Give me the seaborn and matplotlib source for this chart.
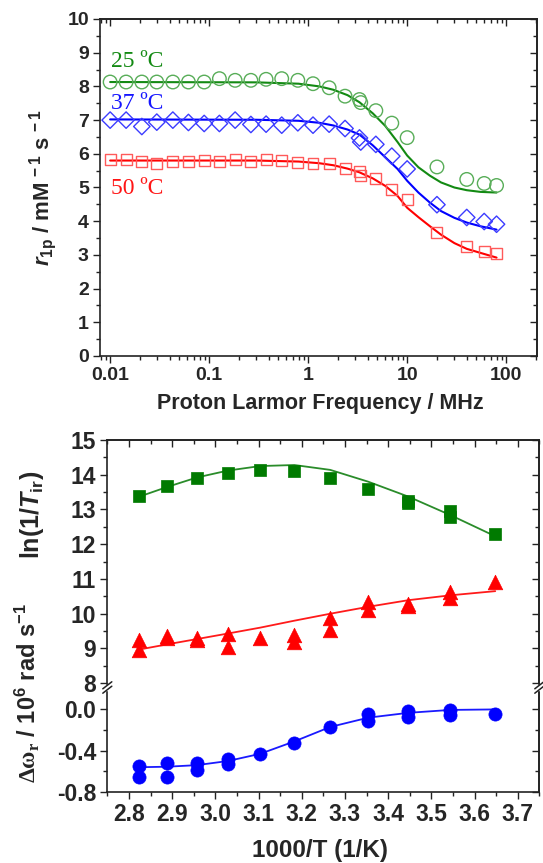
import matplotlib
matplotlib.use('Agg')
import matplotlib.pyplot as plt
from matplotlib.ticker import MultipleLocator, LogLocator, NullFormatter, FixedLocator
from matplotlib.lines import Line2D
from matplotlib.patches import Rectangle
import seaborn as sns

# top panel: r1p profiles (MHz)
freq = [0.01, 0.0145, 0.0209, 0.0296, 0.043, 0.0618, 0.0891, 0.127, 0.183, 0.264,
        0.376, 0.541, 0.787, 1.12, 1.63, 2.36, 3.3, 3.4, 4.83, 7.0, 10, 20, 40, 60, 80]
r1p_25 = [8.13, 8.13, 8.13, 8.13, 8.13, 8.13, 8.13, 8.23, 8.18, 8.18, 8.21, 8.23, 8.18,
          8.08, 7.96, 7.71, 7.61, 7.52, 7.28, 6.91, 6.48, 5.61, 5.24, 5.12, 5.06]
r1p_37 = [7.0, 7.0, 6.81, 6.94, 7.0, 6.93, 6.9, 6.9, 7.0, 6.87, 6.88, 6.85, 6.92,
          6.85, 6.88, 6.75, 6.47, 6.35, 6.28, 5.93, 5.55, 4.49, 4.11, 3.99, 3.91]
r1p_50 = [5.84, 5.84, 5.77, 5.70, 5.76, 5.77, 5.79, 5.77, 5.82, 5.77, 5.82, 5.80, 5.74,
          5.70, 5.72, 5.55, 5.48, 5.36, 5.27, 4.93, 4.64, 3.66, 3.25, 3.11, 3.05]

fit_freq = [0.01, 0.3, 0.8, 1.3, 1.8, 2.5, 3.3, 4.5, 6, 8, 10, 13, 17, 22, 30, 40, 55, 80]
fit_25 = [8.13, 8.12, 8.08, 8.0, 7.9, 7.74, 7.53, 7.2, 6.83, 6.35, 5.95, 5.6, 5.35, 5.15,
          5.0, 4.92, 4.87, 4.85]
fit_37 = [7.02, 7.01, 6.98, 6.92, 6.84, 6.72, 6.57, 6.25, 5.9, 5.55, 5.2, 4.85, 4.55, 4.3,
          4.1, 3.96, 3.85, 3.75]
fit_50 = [5.8, 5.8, 5.77, 5.72, 5.66, 5.56, 5.45, 5.27, 5.05, 4.75, 4.4, 4.12, 3.85, 3.6,
          3.35, 3.18, 3.06, 2.92]

# bottom panel: vs 1000/T
inv_t = [2.824, 2.889, 2.957, 3.029, 3.104, 3.183, 3.266, 3.354, 3.447, 3.544, 3.648]
ln_fit = [13.37, 13.65, 13.92, 14.12, 14.25, 14.28, 14.14, 13.8, 13.37, 12.84, 12.23]
lnm_fit = [8.97, 9.12, 9.27, 9.43, 9.6, 9.8, 10.0, 10.2, 10.39, 10.53, 10.65]
dw_fit = [-0.56, -0.555, -0.54, -0.50, -0.43, -0.31, -0.17, -0.08, -0.033, -0.005, 0.0]

ln_x = [2.824, 2.889, 2.957, 3.029, 3.104, 3.183, 3.266, 3.354, 3.447, 3.447, 3.544, 3.544, 3.648]
ln_y = [13.39, 13.67, 13.90, 14.06, 14.14, 14.12, 13.92, 13.59, 13.25, 13.19, 12.96, 12.79, 12.29]
lnm_x = [2.824, 2.824, 2.889, 2.889, 2.957, 2.957, 3.029, 3.029, 3.104, 3.183, 3.183,
         3.266, 3.266, 3.354, 3.354, 3.447, 3.447, 3.544, 3.544, 3.648]
lnm_y = [9.24, 8.97, 9.36, 9.30, 9.31, 9.25, 9.41, 9.05, 9.29, 9.38, 9.19,
         9.88, 9.53, 10.34, 10.12, 10.29, 10.23, 10.63, 10.44, 10.92]
dw_x = [2.824, 2.824, 2.889, 2.889, 2.957, 2.957, 3.029, 3.029, 3.104, 3.183, 3.266,
        3.354, 3.354, 3.447, 3.447, 3.544, 3.544, 3.648]
dw_y = [-0.545, -0.65, -0.516, -0.65, -0.52, -0.59, -0.48, -0.53, -0.43, -0.33, -0.17,
        -0.04, -0.11, -0.02, -0.07, -0.007, -0.055, -0.04]

sns.set_theme(style='ticks')
plt.rcParams['font.family'] = ['Liberation Sans', 'DejaVu Sans']
plt.rcParams['font.weight'] = 'bold'
plt.rcParams['mathtext.fontset'] = 'custom'
plt.rcParams['mathtext.rm'] = 'Liberation Sans:bold'
plt.rcParams['mathtext.it'] = 'Liberation Sans:italic:bold'
plt.rcParams['mathtext.bf'] = 'Liberation Sans:bold'
plt.rcParams['mathtext.cal'] = 'Liberation Serif'
plt.rcParams['axes.linewidth'] = 1.2
plt.rcParams['axes.edgecolor'] = '#222222'

W, H = 543, 863
fig = plt.figure(figsize=(W / 100, H / 100), dpi=100)


def box(l, t, r, b):
    return [l / W, 1 - b / H, (r - l) / W, (b - t) / H]


def base_ticks(ax, size):
    ax.tick_params(which='both', direction='out', top=False, right=False,
                   width=1.0, labelsize=size, pad=3, color='#222222')
    ax.tick_params(which='major', length=5)
    ax.tick_params(which='minor', length=3)


def mirror_y(ax, major, minor):
    sy = ax.secondary_yaxis('right')
    sy.yaxis.set_major_locator(major)
    sy.yaxis.set_minor_locator(minor)
    sy.yaxis.set_major_formatter(NullFormatter())
    sy.tick_params(which='both', direction='in', width=1.0, color='#222222')
    sy.tick_params(which='major', length=5)
    sy.tick_params(which='minor', length=3)


def mirror_x(ax, major, minor):
    sx = ax.secondary_xaxis('top')
    sx.xaxis.set_major_locator(major)
    sx.xaxis.set_minor_locator(minor)
    sx.xaxis.set_major_formatter(NullFormatter())
    sx.xaxis.set_minor_formatter(NullFormatter())
    sx.tick_params(which='both', direction='in', width=1.0, color='#222222')
    sx.tick_params(which='major', length=5)
    sx.tick_params(which='minor', length=3)


# ---- top panel
ax1 = fig.add_axes(box(100, 19, 537, 356))
ax1.set_xscale('log')
ax1.set_xlim(0.0079, 205)
ax1.set_ylim(0, 10)

sns.lineplot(x=fit_freq, y=fit_25, ax=ax1, color='#138a13', linewidth=1.5, sort=False, estimator=None)
sns.lineplot(x=fit_freq, y=fit_37, ax=ax1, color='#0000ff', linewidth=1.5, sort=False, estimator=None)
sns.lineplot(x=fit_freq, y=fit_50, ax=ax1, color='#ff0000', linewidth=1.5, sort=False, estimator=None)
sns.scatterplot(x=freq, y=r1p_25, ax=ax1, marker='o', s=95, facecolor='none',
                edgecolor='#58ad58', linewidth=1.0, zorder=3)
sns.scatterplot(x=freq, y=r1p_37, ax=ax1, marker='D', s=70, facecolor='none',
                edgecolor='#3c3cff', linewidth=1.0, zorder=3)
sns.scatterplot(x=freq, y=r1p_50, ax=ax1, marker='s', s=62, facecolor='none',
                edgecolor='#ff5a5a', linewidth=1.0, zorder=3)

ax1.text(0.0102, 8.74, '25 ºC', color='#138a13', family='Liberation Serif',
         fontweight='normal', fontsize=17, va='center', ha='left')
ax1.text(0.0102, 7.5, '37 ºC', color='#1515ff', family='Liberation Serif',
         fontweight='normal', fontsize=17, va='center', ha='left')
ax1.text(0.0102, 4.97, '50 ºC', color='#ff1515', family='Liberation Serif',
         fontweight='normal', fontsize=17, va='center', ha='left')

base_ticks(ax1, 14)
ax1.xaxis.set_major_locator(LogLocator(base=10))
ax1.xaxis.set_minor_locator(LogLocator(base=10, subs=range(2, 10)))
ax1.xaxis.set_minor_formatter(NullFormatter())
ax1.set_xticks([0.01, 0.1, 1, 10, 100], ['0.01', '0.1', '1', '10', '100'])
ax1.yaxis.set_major_locator(MultipleLocator(1))
ax1.yaxis.set_minor_locator(MultipleLocator(0.5))
ax1.set_xlabel('')
ax1.set_ylabel('')
mirror_y(ax1, MultipleLocator(1), MultipleLocator(0.5))
mirror_x(ax1, LogLocator(base=10), LogLocator(base=10, subs=range(2, 10)))

fig.text(320 / W, 1 - 403 / H, 'Proton Larmor Frequency / MHz', fontsize=15.5,
         ha='center', va='center')
fig.text(43 / W, 1 - 188 / H, r'$\mathit{r}_{\mathrm{1p}}$ / mM$^{\,-1}$ s$^{\,-1}$',
         fontsize=16, rotation=90, ha='center', va='center')

# ---- bottom panel (broken y axis)
ax2 = fig.add_axes(box(107.3, 440, 539.3, 686.7))
ax3 = fig.add_axes(box(107.3, 686.7, 539.3, 792))
for a in (ax2, ax3):
    a.set_xlim(2.75, 3.75)
ax2.set_ylim(7.9, 15)
ax3.set_ylim(-0.8, 0.22)

sns.lineplot(x=inv_t, y=ln_fit, ax=ax2, color='#2a8c2a', linewidth=1.3, sort=False, estimator=None)
sns.lineplot(x=inv_t, y=lnm_fit, ax=ax2, color='#ff1a1a', linewidth=1.3, sort=False, estimator=None)
sns.scatterplot(x=ln_x, y=ln_y, ax=ax2, marker='s', s=80, color='#007a00',
                edgecolor='#007a00', linewidth=0.5, zorder=3)
sns.scatterplot(x=lnm_x, y=lnm_y, ax=ax2, marker='^', s=110, color='#ff0000',
                edgecolor='#ff0000', linewidth=0.5, zorder=3)
sns.lineplot(x=inv_t, y=dw_fit, ax=ax3, color='#1a1aff', linewidth=1.3, sort=False, estimator=None)
sns.scatterplot(x=dw_x, y=dw_y, ax=ax3, marker='o', s=90, color='#0000ff',
                edgecolor='#0000ff', linewidth=0.5, zorder=3)

ax2.spines['bottom'].set_visible(False)
ax3.spines['top'].set_visible(False)
base_ticks(ax2, 16.5)
base_ticks(ax3, 16.5)
ax2.tick_params(axis='x', which='both', bottom=False, labelbottom=False)
ax2.yaxis.set_major_locator(MultipleLocator(1))
ax2.yaxis.set_minor_locator(MultipleLocator(0.5))
ax3.yaxis.set_major_locator(FixedLocator([-0.8, -0.4, 0.0]))
ax3.yaxis.set_minor_locator(FixedLocator([-0.6, -0.2]))
ax3.set_yticklabels(['-0.8', '-0.4', '0.0'])
ax3.xaxis.set_major_locator(MultipleLocator(0.1))
ax3.xaxis.set_minor_locator(MultipleLocator(0.05))
ax3.xaxis.set_major_formatter(plt.FormatStrFormatter('%.1f'))
for a in (ax2, ax3):
    a.set_xlabel('')
    a.set_ylabel('')
mirror_x(ax2, MultipleLocator(0.1), MultipleLocator(0.05))
mirror_y(ax2, MultipleLocator(1), MultipleLocator(0.5))
mirror_y(ax3, FixedLocator([-0.8, -0.4, 0.0]), FixedLocator([-0.6, -0.2]))

# break marks on both spines
yb = 687.5
for xp in (107.3, 539.3):
    fig.add_artist(Rectangle(((xp - 4) / W, 1 - (yb + 2.5) / H), 8 / W, 5 / H,
                             transform=fig.transFigure, color='white', zorder=10))
    for dy in (-2.2, 2.2):
        fig.add_artist(Line2D([(xp - 4.5) / W, (xp + 4.5) / W],
                              [1 - (yb + dy + 3.5) / H, 1 - (yb + dy - 3.5) / H],
                              transform=fig.transFigure, color='#222222', lw=1.1, zorder=11))

fig.text(320 / W, 1 - 850 / H, '1000/T (1/K)', fontsize=17.5, ha='center', va='center')
fig.text(32 / W, 1 - 515 / H, r'ln(1/$\mathit{T}_{\mathrm{ir}}$)', fontsize=18,
         rotation=90, ha='center', va='center')
fig.text(27 / W, 1 - 693 / H,
         r'$\mathcal{\Delta\omega}_{\mathcal{r}}$ / 10$^{6}$ rad s$^{-1}$',
         fontsize=17, rotation=90, ha='center', va='center')

fig.savefig('out.png', dpi=100)
